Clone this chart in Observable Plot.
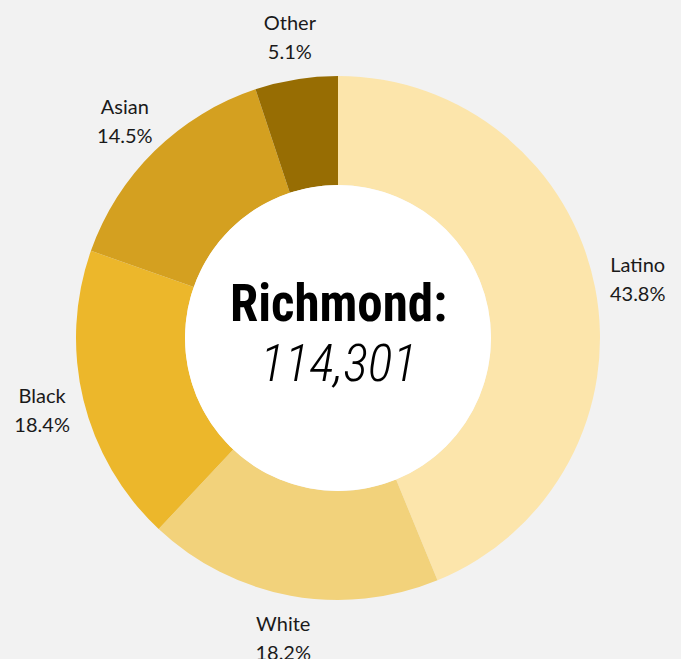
<!DOCTYPE html>
<html><head><meta charset="utf-8">
<script src="https://cdn.jsdelivr.net/npm/d3@7"></script>
<script src="https://cdn.jsdelivr.net/npm/@observablehq/plot@0.6"></script>
<style>html,body{margin:0;padding:0;background:#f2f2f2;}</style>
</head><body><div id="chart"></div>
<script>
const categories = ["Latino", "White", "Black", "Asian", "Other"];
const shares = [43.8, 18.2, 18.4, 14.5, 5.1];
const colors = ["#fce5ab", "#f2d27b", "#ecb72b", "#d4a020", "#976d03"];
const cityName = "Richmond:";
const population = "114,301";

const rows = categories.map((c, i) => ({category: c, share: shares[i]}));
const arcsData = d3.pie().sort(null).value(d => d.share)(rows)
  .map(a => ({...a.data, startAngle: a.startAngle, endAngle: a.endAngle, mid: (a.startAngle + a.endAngle) / 2}));

const INNER = 153 / 262;
const LABEL_R = 305 / 262;

function donutRender(index, scales, values) {
  const cx = values.x[0], cy = values.y[0];
  const R = Math.abs(scales.x(1) - scales.x(0));
  const r = R * INNER;
  const g = d3.create("svg:g").attr("transform", `translate(${cx},${cy})`);
  const arc = d3.arc().innerRadius(r).outerRadius(R);
  g.selectAll("path").data(Array.from(index)).join("path")
    .attr("d", i => arc(arcsData[i]))
    .attr("fill", i => values.fill[i]);
  g.append("circle").attr("r", r).attr("fill", "#ffffff");
  return g.node();
}

const chart = Plot.plot({
  width: 681,
  height: 659,
  margin: 0,
  x: {domain: [-1, 1], range: [338 - 262, 338 + 262], axis: null},
  y: {domain: [-1, 1], range: [338 + 262, 338 - 262], axis: null},
  color: {domain: categories, range: colors},
  style: {background: "#f2f2f2"},
  marks: [
    Plot.dot(arcsData, {x: () => 0, y: () => 0, fill: "category", render: donutRender}),
    Plot.text(arcsData, {
      x: d => LABEL_R * Math.sin(d.mid),
      y: d => LABEL_R * Math.cos(d.mid),
      text: d => `${d.category}\n${d.share.toFixed(1)}%`,
      fontFamily: "Lato, sans-serif",
      fontSize: 20,
      lineHeight: 1.45,
      dy: -2,
      fill: "#1a1a1a",
      textAnchor: "middle"
    }),
    Plot.text([cityName], {
      x: 0, y: 0.13, text: d => d,
      fontFamily: "'Liberation Sans Narrow', 'Roboto Condensed', sans-serif",
      fontWeight: "bold", fontSize: 51, fill: "#000"
    }),
    Plot.text([population], {
      x: 0, y: -0.097, text: d => d,
      fontFamily: "'Liberation Sans Narrow', 'Roboto Condensed', sans-serif",
      fontStyle: "italic", fontWeight: 300, fontSize: 52, fill: "#000"
    })
  ]
});
document.getElementById("chart").appendChild(chart);
</script>
</body></html>
